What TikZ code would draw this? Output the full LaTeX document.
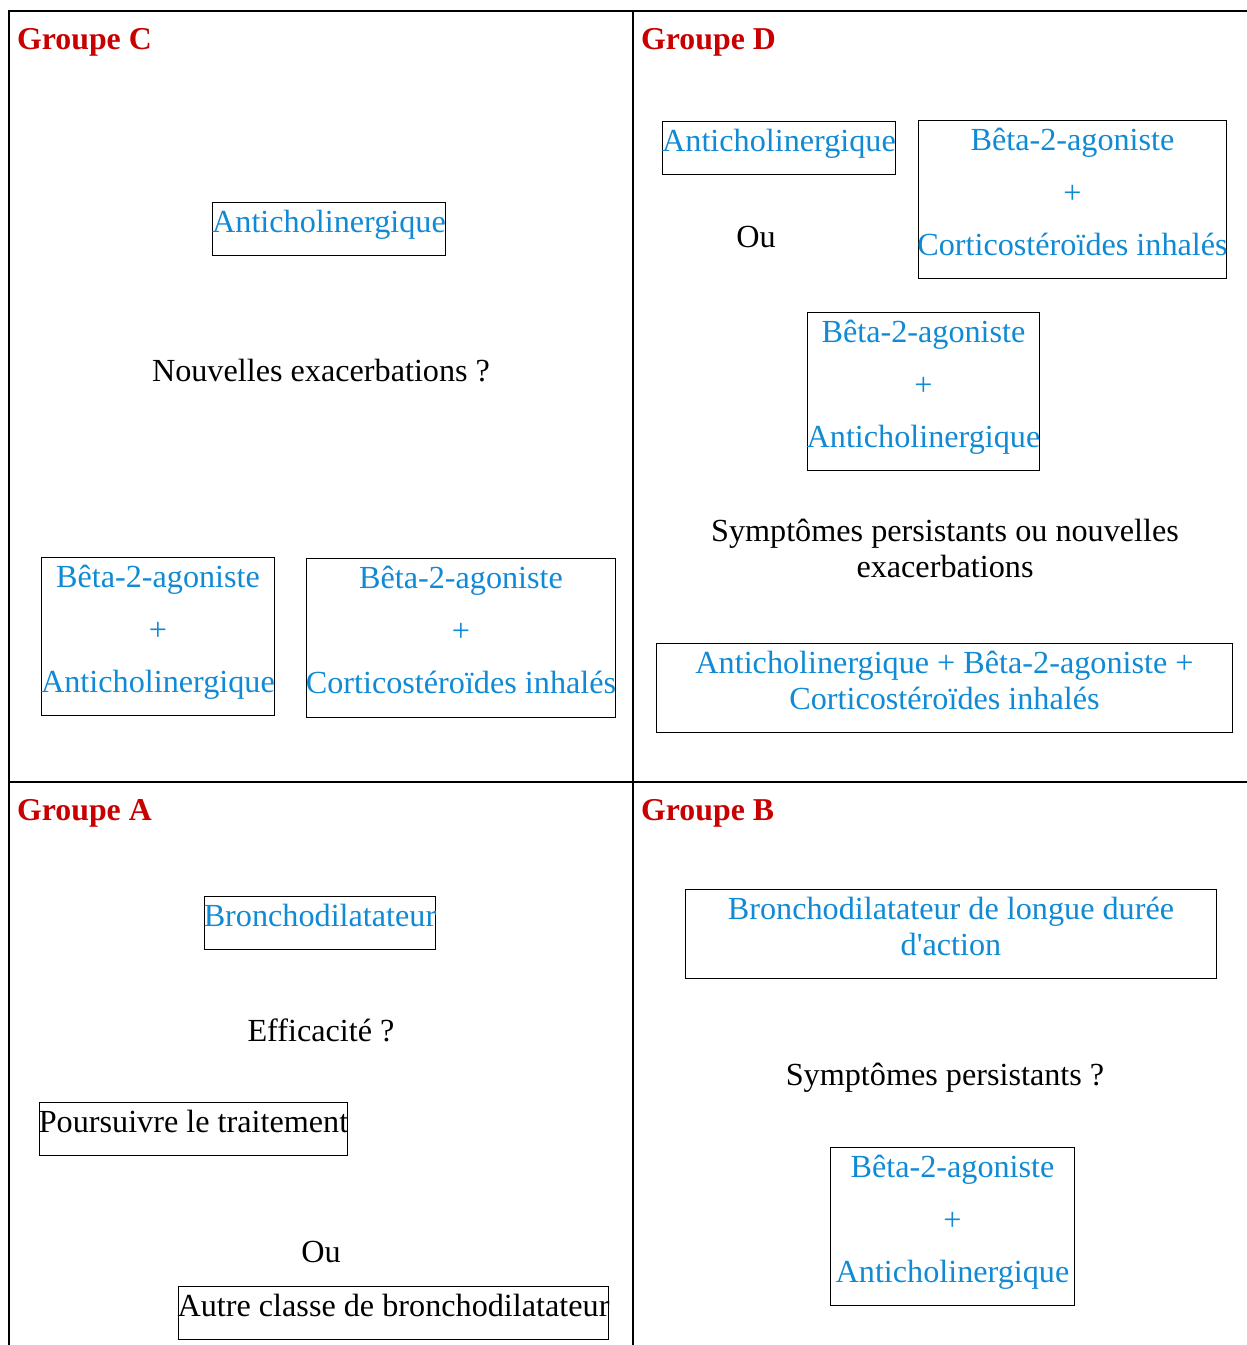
\documentclass[tikz,border=0pt]{standalone}
\usepackage{fontspec}
\setmainfont{Liberation Serif}
\definecolor{grpred}{RGB}{200,0,0}
\definecolor{drugblue}{RGB}{16,138,212}
% fixed-size cell, first baseline 30pt below the top, lines never wrap
\newcommand{\drugcell}[3]{\parbox[c][#2pt][t]{#1pt}{\rule{0pt}{30pt}\makebox[#1pt]{\begin{tabular}[t]{@{}c@{}}#3\end{tabular}}}}
\newcommand{\plusgap}{\\[16.5pt]}

\begin{document}
\begin{tikzpicture}[x=1pt, y=-1pt,
    every node/.style={font=\fontsize{32.2}{36}\selectfont},
    grp/.style={anchor=base west, inner sep=0, text=grpred, font=\fontsize{31.8}{36}\selectfont\bfseries},
    plain/.style={anchor=base, inner sep=0},
    box/.style={draw, line width=1pt, inner sep=0, anchor=north west, text=drugblue},
    blackbox/.style={box, text=black}]
    \useasboundingbox (0,0) rectangle (1247,1345);
    % Draw the quadrant lines
    \draw[line width=1.5pt] (9,1345) -- (9,11) -- (1247,11);
    \draw[line width=1.5pt] (633,11) -- (633,1345);
    \draw[line width=1.5pt] (9,782) -- (1247,782);
    % Groupe C (top left)
    \node[grp] (grpC) at (17,49) {Groupe C};
    \node[box] (cAnti) at (212,202) {\drugcell{233}{53}{Anticholinergique}};
    \node[plain] (cQuestion) at (321,381) {Nouvelles exacerbations ?};
    \node[box] (cBetaAnti) at (41,557) {\drugcell{233}{158}{Bêta-2-agoniste\plusgap+\plusgap Anticholinergique}};
    \node[box] (cBetaCort) at (306,558) {\drugcell{309}{159}{Bêta-2-agoniste\plusgap+\plusgap Corticostéroïdes inhalés}};
    % Groupe D (top right)
    \node[grp] (grpD) at (641,49) {Groupe D};
    \node[box] (dAnti) at (662,121) {\drugcell{233}{53}{Anticholinergique}};
    \node[plain] (dOu) at (756,247) {Ou};
    \node[box] (dBetaCort) at (918,120) {\drugcell{308}{158}{Bêta-2-agoniste\plusgap+\plusgap Corticostéroïdes inhalés}};
    \node[box] (dBetaAnti) at (807,312) {\drugcell{232}{158}{Bêta-2-agoniste\plusgap+\plusgap Anticholinergique}};
    \node[box, draw=none, text=black, anchor=north] (dQuestion) at (945,511) {\drugcell{560}{70}{Symptômes persistants ou nouvelles\\exacerbations}};
    \node[box] (dTriple) at (656,643) {\drugcell{576}{89}{Anticholinergique + Bêta-2-agoniste +\\Corticostéroïdes inhalés}};
    % Groupe A (bottom left)
    \node[grp] (grpA) at (17,820) {Groupe A};
    \node[box] (aBroncho) at (204,896) {\drugcell{231}{53}{Bronchodilatateur}};
    \node[plain] (aQuestion) at (321,1041) {Efficacité ?};
    \node[blackbox] (aKeep) at (39,1102) {\drugcell{308}{53}{Poursuivre le traitement}};
    \node[plain] (aOu) at (321,1262) {Ou};
    \node[blackbox] (aOther) at (178,1286) {\drugcell{430}{53}{Autre classe de bronchodilatateur}};
    % Groupe B (bottom right)
    \node[grp] (grpB) at (641,820) {Groupe B};
    \node[box] (bLong) at (685,889) {\drugcell{531}{89}{Bronchodilatateur de longue durée\\d\textquotesingle action}};
    \node[plain] (bQuestion) at (945,1085) {Symptômes persistants ?};
    \node[box] (bBetaAnti) at (830,1147) {\drugcell{244}{158}{Bêta-2-agoniste\plusgap+\plusgap Anticholinergique}};
\end{tikzpicture}
\end{document}
